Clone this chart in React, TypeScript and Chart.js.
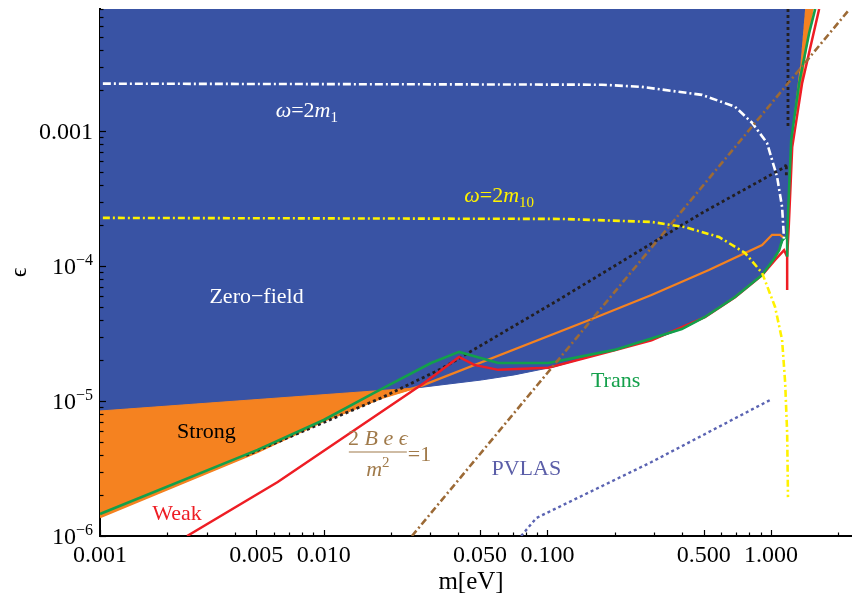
import React, { useEffect, useRef } from 'react';
import { Chart, registerables } from 'chart.js';

Chart.register(...registerables);

const FONT = '"Liberation Serif", "Times New Roman", serif';

const X_MIN = 0.001;
const X_MAX = 2.3;
const Y_MIN = 1e-6;
const Y_MAX = 0.008;

const X_TICKS = [0.001, 0.005, 0.01, 0.05, 0.1, 0.5, 1];
const X_TICK_LABELS = ['0.001', '0.005', '0.010', '0.050', '0.100', '0.500', '1.000'];
const Y_TICKS = [1e-6, 1e-5, 1e-4, 1e-3];
const Y_TICK_BASE = ['10', '10', '10', '0.001'];
const Y_TICK_SUP = ['\u22126', '\u22125', '\u22124', ''];

// Zero-field excluded region (blue)
const ZERO_M = [0.001, 0.001, 0.026, 0.0506, 0.0711, 0.107, 0.1995, 0.292, 0.411, 0.506, 0.69, 0.912, 1.01, 1.097, 1.18, 1.205, 1.24, 1.28, 1.35, 1.42];
const ZERO_E = [0.008, 8.43e-6, 1.25e-5, 1.43e-5, 1.56e-5, 1.79e-5, 2.39e-5, 2.83e-5, 3.47e-5, 4.19e-5, 5.89e-5, 8.58e-5, 1.07e-4, 1.38e-4, 1.79e-4, 3.85e-4, 8.58e-4, 1.43e-3, 2.98e-3, 0.008];

// Strong-field region (orange), left part
const STRONG_M = [0.001, 0.026, 0.018, 0.01, 0.00506, 0.001];
const STRONG_E = [8.43e-6, 1.25e-5, 1.05e-5, 7.11e-6, 4.19e-6, 1.38e-6];
// Strong-field region (orange), right sliver
const STRONG2_M = [1.42, 1.543, 1.435, 1.336, 1.282, 1.28, 1.35];
const STRONG2_E = [0.008, 0.008, 3.98e-3, 1.7e-3, 1.31e-3, 1.43e-3, 2.98e-3];

// Orange line (strong)
const ORANGE_M = [0.001, 0.00506, 0.01, 0.018, 0.0275, 0.154, 0.292, 0.527, 0.912, 1.01, 1.097, 1.143];
const ORANGE_E = [1.38e-6, 4.19e-6, 7.11e-6, 1.05e-5, 1.3e-5, 3.98e-5, 6.1e-5, 9.34e-5, 1.43e-4, 1.7e-4, 1.7e-4, 1.61e-4];

// Green line (Trans)
const TRANS_M = [0.001, 0.00506, 0.01, 0.0168, 0.0302, 0.0403, 0.0603, 0.101, 0.1995, 0.399, 0.506, 0.69, 0.912, 1.03, 1.087, 1.12, 1.18, 1.18, 1.18, 1.205, 1.23, 1.336, 1.48, 1.575];
const TRANS_E = [1.456e-6, 4.34e-6, 7.23e-6, 1.15e-5, 1.91e-5, 2.31e-5, 1.91e-5, 1.91e-5, 2.39e-5, 3.41e-5, 4.19e-5, 5.89e-5, 8.58e-5, 1.13e-4, 1.31e-4, 1.55e-4, 1.67e-4, 1.17e-4, 1.67e-4, 3.9e-4, 8.58e-4, 2.27e-3, 5.32e-3, 0.008];

// Red line (Weak)
const WEAK_M = [0.00245, 0.00623, 0.0281, 0.0403, 0.0471, 0.0603, 0.101, 0.1995, 0.292, 0.506, 0.69, 0.912, 1.042, 1.143, 1.18, 1.18, 1.18, 1.2, 1.243, 1.377, 1.64];
const WEAK_E = [1e-6, 2.51e-6, 1.36e-5, 2.12e-5, 1.85e-5, 1.7e-5, 1.76e-5, 2.37e-5, 2.81e-5, 4.17e-5, 5.87e-5, 8.55e-5, 1.11e-4, 1.31e-4, 1.17e-4, 6.64e-5, 1.17e-4, 2.0e-4, 7.6e-4, 2.27e-3, 0.008];

// Black dotted curves
const BLACK_M = [0.0045, 0.018, 0.0335, 0.112, 0.491, 1.156, 1.17, 1.17];
const BLACK_E = [3.95e-6, 1.05e-5, 1.73e-5, 5.6e-5, 2.47e-4, 5.41e-4, 5.7e-4, 4.5e-4];
const BLACK2_M = [1.19, 1.19];
const BLACK2_E = [0.008, 1.05e-3];

// omega = 2 m_1 (white) and omega = 2 m_10 (yellow)
const W1_M = [0.00103, 0.175, 0.264, 0.491, 0.69, 0.822, 0.959, 1.064, 1.12, 1.143];
const W1_E = [2.24e-3, 2.2e-3, 2.12e-3, 1.85e-3, 1.51e-3, 1.15e-3, 8.15e-4, 4.56e-4, 2.73e-4, 1.56e-4];
const W10_M = [0.00103, 0.1156, 0.292, 0.411, 0.585, 0.764, 0.912, 1.042, 1.12, 1.156, 1.18, 1.19];
const W10_E = [2.27e-4, 2.23e-4, 2.12e-4, 1.94e-4, 1.64e-4, 1.25e-4, 8.87e-5, 4.97e-5, 2.83e-5, 1.36e-5, 5.79e-6, 1.94e-6];

// 2Be eps / m^2 = 1 (brown)
const BEM_M = [0.0248, 2.21];
const BEM_E = [1e-6, 7.74e-3];

// PVLAS (blue dotted)
const PVLAS_M = [0.0763, 0.0893, 0.292, 1.01];
const PVLAS_E = [1e-6, 1.36e-6, 3.53e-6, 1.035e-5];

const BLUE = '#3953A4';
const ORANGE = '#F58220';
const GREEN = '#13A04B';
const RED = '#EE1D24';
const YELLOW = '#FFF200';
const BROWN = '#9C6A36';
const BROWN_TEXT = '#A07A4A';
const PVLAS_C = '#5A63B2';
const DARK = '#231F20';

const pts = (m: number[], e: number[]) => m.map((v, i) => ({ x: v, y: e[i] }));

type Piece = { t: string; it?: boolean; s: number; dy?: number };

function drawRich(ctx: CanvasRenderingContext2D, x: number, y: number, pieces: Piece[], align: 'left' | 'center', color: string) {
  ctx.fillStyle = color;
  ctx.textBaseline = 'alphabetic';
  ctx.textAlign = 'left';
  let total = 0;
  const widths = pieces.map((p) => {
    ctx.font = `${p.it ? 'italic ' : ''}${p.s}px ${FONT}`;
    const w = ctx.measureText(p.t).width;
    total += w;
    return w;
  });
  let cx = align === 'center' ? x - total / 2 : x;
  pieces.forEach((p, i) => {
    ctx.font = `${p.it ? 'italic ' : ''}${p.s}px ${FONT}`;
    ctx.fillText(p.t, cx, y + (p.dy || 0));
    cx += widths[i];
  });
}

const decor = {
  id: 'decor',
  afterDraw(chart: any) {
    const { ctx, chartArea: ca, scales } = chart;
    const xs = scales.x;
    const ys = scales.y;
    ctx.save();
    // inward ticks
    ctx.strokeStyle = '#000';
    ctx.lineWidth = 1.2;
    for (let d = -6; d <= -3; d++) {
      for (let k = 1; k <= 9; k++) {
        const v = k * Math.pow(10, d);
        if (v > Y_MAX) continue;
        const py = Math.round(ys.getPixelForValue(v)) + 0.5;
        const len = k === 1 ? 6 : 3.5;
        ctx.beginPath();
        ctx.moveTo(ca.left, py);
        ctx.lineTo(ca.left + len, py);
        ctx.stroke();
      }
    }
    for (let d = -3; d <= 0; d++) {
      for (let k = 1; k <= 9; k++) {
        const v = k * Math.pow(10, d);
        if (v > X_MAX) continue;
        const px = Math.round(xs.getPixelForValue(v)) + 0.5;
        const len = X_TICKS.some((t) => Math.abs(t - v) / v < 1e-6) ? 6 : 3.5;
        ctx.beginPath();
        ctx.moveTo(px, ca.bottom);
        ctx.lineTo(px, ca.bottom - len);
        ctx.stroke();
      }
    }
    // y tick labels
    Y_TICKS.forEach((v, i) => {
      const py = ys.getPixelForValue(v);
      const right = ca.left - 7;
      ctx.fillStyle = '#000';
      ctx.textBaseline = 'alphabetic';
      ctx.textAlign = 'right';
      let supW = 0;
      if (Y_TICK_SUP[i]) {
        ctx.font = `16px ${FONT}`;
        supW = ctx.measureText(Y_TICK_SUP[i]).width;
        ctx.fillText(Y_TICK_SUP[i], right, py - 1);
      }
      ctx.font = `24px ${FONT}`;
      ctx.fillText(Y_TICK_BASE[i], right - supW, py + 8);
    });
    // axis titles
    ctx.fillStyle = '#000';
    ctx.textAlign = 'center';
    ctx.textBaseline = 'middle';
    ctx.font = `25px ${FONT}`;
    ctx.fillText('m[eV]', (ca.left + ca.right) / 2 - 5, 582);
    ctx.save();
    ctx.translate(20, (ca.top + ca.bottom) / 2);
    ctx.rotate(-Math.PI / 2);
    ctx.font = `24px ${FONT}`;
    ctx.fillText('\u03F5', 0, 0);
    ctx.restore();

    const P = (m: number, e: number) => [xs.getPixelForValue(m), ys.getPixelForValue(e)];
    // region labels
    let [lx, ly] = P(0.00501, 6.1e-5);
    drawRich(ctx, lx, ly + 8, [{ t: 'Zero\u2212field', s: 22 }], 'center', '#FFFFFF');
    [lx, ly] = P(0.00299, 6.1e-6);
    drawRich(ctx, lx, ly + 8, [{ t: 'Strong', s: 22 }], 'center', '#000000');
    [lx, ly] = P(0.00221, 1.51e-6);
    drawRich(ctx, lx, ly + 8, [{ t: 'Weak', s: 22 }], 'center', RED);
    [lx, ly] = P(0.2018, 1.46e-5);
    drawRich(ctx, lx, ly + 8, [{ t: 'Trans', s: 22 }], 'center', GREEN);
    [lx, ly] = P(0.0805, 3.24e-6);
    drawRich(ctx, lx, ly + 8, [{ t: 'PVLAS', s: 22 }], 'center', '#5B5EA8');
    [lx, ly] = P(0.0061, 1.43e-3);
    drawRich(ctx, lx, ly + 7, [{ t: '\u03C9', it: true, s: 22 }, { t: '=2', s: 22 }, { t: 'm', it: true, s: 22 }, { t: '1', s: 15, dy: 5 }], 'left', '#FFFFFF');
    [lx, ly] = P(0.0425, 3.36e-4);
    drawRich(ctx, lx, ly + 7, [{ t: '\u03C9', it: true, s: 22 }, { t: '=2', s: 22 }, { t: 'm', it: true, s: 22 }, { t: '10', s: 15, dy: 5 }], 'left', YELLOW);
    // fraction 2 B e eps / m^2 = 1
    [lx, ly] = P(0.01746, 4.19e-6);
    drawRich(ctx, lx, ly - 7, [{ t: '2 ', s: 22 }, { t: 'B e \u03F5', it: true, s: 22 }], 'center', BROWN_TEXT);
    drawRich(ctx, lx, ly + 24, [{ t: 'm', it: true, s: 22 }, { t: '2', s: 15, dy: -9 }], 'center', BROWN_TEXT);
    ctx.strokeStyle = BROWN_TEXT;
    ctx.lineWidth = 1.2;
    ctx.beginPath();
    ctx.moveTo(lx - 29, ly);
    ctx.lineTo(lx + 29, ly);
    ctx.stroke();
    drawRich(ctx, lx + 30, ly + 9, [{ t: '=1', s: 22 }], 'left', BROWN_TEXT);
    ctx.restore();
  },
};

export default function App() {
  const ref = useRef<HTMLCanvasElement>(null);
  useEffect(() => {
    const line = (m: number[], e: number[], color: string, width: number, order: number, dash: number[] = []) => ({
      data: pts(m, e),
      showLine: true,
      fill: false,
      borderColor: color,
      backgroundColor: color,
      borderWidth: width,
      borderDash: dash,
      pointRadius: 0,
      pointHoverRadius: 0,
      tension: 0,
      order,
    });
    const area = (m: number[], e: number[], color: string, order: number) => ({
      data: pts(m, e),
      showLine: true,
      fill: 'shape',
      borderColor: color,
      backgroundColor: color,
      borderWidth: 1,
      pointRadius: 0,
      pointHoverRadius: 0,
      tension: 0,
      order,
    });
    const chart = new Chart(ref.current as HTMLCanvasElement, {
      type: 'scatter',
      data: {
        datasets: [
          area(ZERO_M, ZERO_E, BLUE, 30),
          area(STRONG_M, STRONG_E, ORANGE, 29),
          area(STRONG2_M, STRONG2_E, ORANGE, 28),
          line(ORANGE_M, ORANGE_E, ORANGE, 2.2, 20),
          line(BLACK_M, BLACK_E, DARK, 2.8, 19, [3, 3]),
          line(BLACK2_M, BLACK2_E, DARK, 2.8, 19, [3, 3]),
          line(WEAK_M, WEAK_E, RED, 2.5, 18),
          line(TRANS_M, TRANS_E, GREEN, 2.6, 17),
          line(W1_M, W1_E, '#FFFFFF', 2.6, 15, [8, 3, 2, 3]),
          line(W10_M, W10_E, YELLOW, 2.6, 14, [7, 3, 2, 3]),
          line(BEM_M, BEM_E, BROWN, 2.6, 13, [7, 3, 2, 3]),
          line(PVLAS_M, PVLAS_E, PVLAS_C, 2.4, 12, [3, 3]),
        ] as any,
      },
      options: {
        responsive: false,
        devicePixelRatio: 1,
        animation: false,
        events: [],
        layout: { padding: { top: 9, left: 0, right: 0, bottom: 0 } },
        plugins: { legend: { display: false }, tooltip: { enabled: false } },
        scales: {
          x: {
            type: 'logarithmic',
            min: X_MIN,
            max: X_MAX,
            position: 'bottom',
            z: 1,
            afterBuildTicks: (s: any) => {
              s.ticks = X_TICKS.map((v) => ({ value: v }));
            },
            afterFit: (s: any) => {
              s.height = 62;
              s.paddingLeft = 0;
              s.paddingRight = 0;
            },
            ticks: {
              autoSkip: false,
              maxRotation: 0,
              minRotation: 0,
              padding: 5,
              color: '#000',
              font: { family: FONT, size: 24 },
              callback: (_v: any, i: number) => X_TICK_LABELS[i],
            },
            grid: { display: false, drawTicks: false },
            border: { display: true, color: '#000', width: 2 },
          },
          y: {
            type: 'logarithmic',
            min: Y_MIN,
            max: Y_MAX,
            z: 1,
            afterBuildTicks: (s: any) => {
              s.ticks = Y_TICKS.map((v) => ({ value: v }));
            },
            afterFit: (s: any) => {
              s.width = 100;
              s.paddingTop = 0;
              s.paddingBottom = 0;
            },
            ticks: { display: false },
            grid: { display: false, drawTicks: false },
            border: { display: true, color: '#000', width: 2 },
          },
        },
      } as any,
      plugins: [decor],
    });
    return () => chart.destroy();
  }, []);
  return (
    <div style={{ position: 'absolute', left: 0, top: 0, width: 852, height: 598, background: '#fff' }}>
      <canvas ref={ref} width={852} height={598} style={{ display: 'block' }} />
    </div>
  );
}
